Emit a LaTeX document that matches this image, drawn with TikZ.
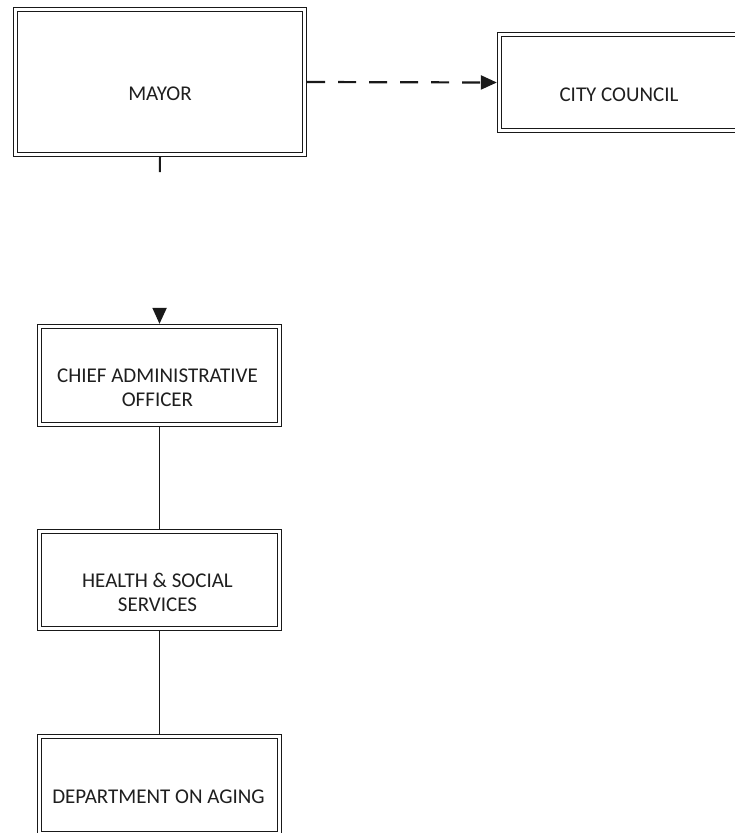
\documentclass[tikz,border=0pt]{standalone}
\usepackage{fontspec}
\setmainfont{Carlito}
\usetikzlibrary{arrows.meta}
\begin{document}
\begin{tikzpicture}[x=1pt,y=-1pt,
  orgbox/.style={draw=black!90, line width=1.5pt, double=white, double distance=2.3pt,
    rectangle, inner sep=0pt, outer sep=2.65pt, fill=white},
  boxtext/.style={text=black!88, font=\fontsize{21}{24}\selectfont, align=center, inner sep=0pt},
  link/.style={draw=black!90, line width=1.6pt},
  tip/.style={-{Triangle[length=16pt,width=14pt]}}
]
\useasboundingbox (0,0) rectangle (735,833);
\clip (0,0) rectangle (735,833);

% boxes
\node[orgbox, minimum width=289pt, minimum height=145pt] (mayor) at (160,82) {};
\node[orgbox, minimum width=241pt, minimum height=96pt] (council) at (620,82.5) {};
\node[orgbox, minimum width=240pt, minimum height=98pt] (cao) at (159.5,375.5) {};
\node[orgbox, minimum width=240pt, minimum height=97pt] (hss) at (159.5,580) {};
\node[orgbox, minimum width=240pt, minimum height=97pt] (doa) at (159.5,785) {};

% labels, set slightly below each box centre
\node[boxtext] (mayortxt) at ([yshift=-12pt]mayor.center) {MAYOR};
\node[boxtext] (counciltxt) at ([yshift=-12pt,xshift=-1pt]council.center) {CITY COUNCIL};
\node[boxtext] (caotxt) at ([yshift=-12pt,xshift=-2pt]cao.center) {CHIEF ADMINISTRATIVE\\OFFICER};
\node[boxtext] (hsstxt) at ([yshift=-12pt,xshift=-2pt]hss.center) {HEALTH \& SOCIAL\\SERVICES};
\node[boxtext] (doatxt) at ([yshift=-12pt,xshift=-1pt]doa.center) {DEPARTMENT ON AGING};

% connectors
\draw[link, line width=2.2pt, dash pattern=on 18pt off 13pt, tip] (mayor.east) -- (council.west);
\draw[link, line width=2pt, dash pattern=on 15pt off 400pt, tip] (mayor.south) -- (cao.north);
\draw[link] (cao.south) -- (hss.north);
\draw[link] (hss.south) -- (doa.north);
\end{tikzpicture}
\end{document}
